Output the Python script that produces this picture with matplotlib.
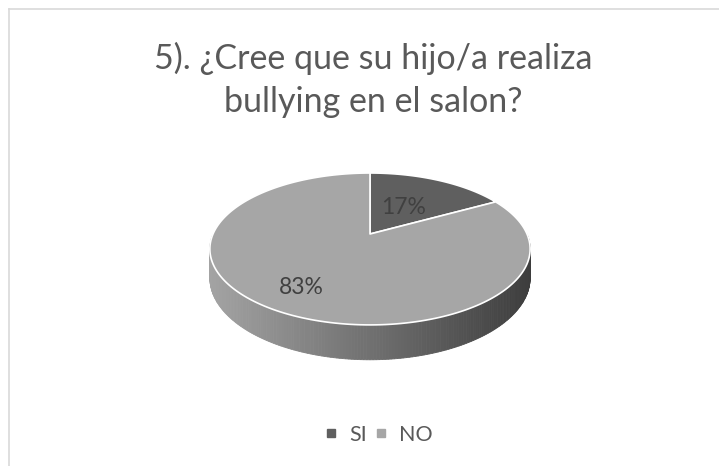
import numpy as np
import matplotlib.pyplot as plt
from matplotlib.patches import Polygon
from matplotlib.lines import Line2D

# data
labels = ['SI', 'NO']
values = [17, 83]
colors = ['#5f5f5f', '#a6a6a6']
title = '5). ¿Cree que su hijo/a realiza\nbullying en el salon?'

# pie geometry (pixel space)
cx, cy = 370, 234
A, S, k = 157, 73, 0.197
T = 28


def proj(ang, r=1.0, drop=0.0):
    # ang measured clockwise from 12 o'clock (radians)
    u = r * np.sin(ang)
    v = r * np.cos(ang)
    d = 1 + k * v
    return cx + A * u / d, cy - S * v / d + drop / d


fig = plt.figure(figsize=(7.19, 4.66), dpi=100)
ax = fig.add_axes([0, 0, 1, 1])
ax.set_xlim(0, 719)
ax.set_ylim(466, 0)
ax.axis('off')

# chart border (top and left only visible)
ax.plot([9, 719], [9, 9], c='#d9d9d9', lw=1.2)
ax.plot([9, 9], [9, 466], c='#d9d9d9', lw=1.2)

fracs = np.array(values) / np.sum(values)
starts = np.concatenate([[0], np.cumsum(fracs)[:-1]]) * 2 * np.pi
ends = np.cumsum(fracs) * 2 * np.pi

# side of the cylinder (only front half visible), gradient in strips
lo, hi = np.pi / 2, 3 * np.pi / 2
n = 200
t = np.linspace(lo, hi, n + 1)
xs_l, xs_r = 210.0, 529.0
c_left = np.array([0.64, 0.64, 0.64])
c_right = np.array([0.24, 0.24, 0.24])
for i in range(n):
    a0, a1 = t[i], t[i + 1]
    x0, y0 = proj(a0)
    x1, y1 = proj(a1)
    x2, y2 = proj(a1, drop=T)
    x3, y3 = proj(a0, drop=T)
    xm = (x0 + x1) / 2
    f = np.clip((xm - xs_l) / (xs_r - xs_l), 0, 1)
    col = c_left * (1 - f) + c_right * f
    ax.add_patch(Polygon([[x0, y0], [x1, y1], [x2, y2], [x3, y3]],
                         closed=True, fc=col, ec=col, lw=0.6))

# top faces
for s, e, c in zip(starts, ends, colors):
    a = np.linspace(s, e, 200)
    px, py = proj(a)
    pts = np.column_stack([np.r_[cx, px], np.r_[cy, py]])
    ax.add_patch(Polygon(pts, closed=True, fc=c, ec='white', lw=1.2,
                         joinstyle='round'))

# percentage labels
radii = [0.45, 0.75]
for s, e, v, r in zip(starts, ends, values, radii):
    lx, ly = proj((s + e) / 2, r=r)
    ax.text(lx, ly, '%d%%' % v, ha='center', va='center',
            fontsize=16.5, color='#404040', family='Lato')

ax.text(373, 80, title, ha='center', va='center', fontsize=24.5,
        color='#595959', family='Lato', linespacing=1.4)

handles = [Line2D([], [], marker='s', ls='', ms=6, mfc=c, mec=c) for c in colors]
fig.legend(handles, labels, loc='center', bbox_to_anchor=(378 / 719, 1 - 435 / 466),
           ncol=2, frameon=False, prop={'family': 'Lato', 'size': 15.5},
           handlelength=0.7, handletextpad=0.5, columnspacing=0.3,
           labelcolor='#595959')

fig.savefig('out.png', dpi=100)
